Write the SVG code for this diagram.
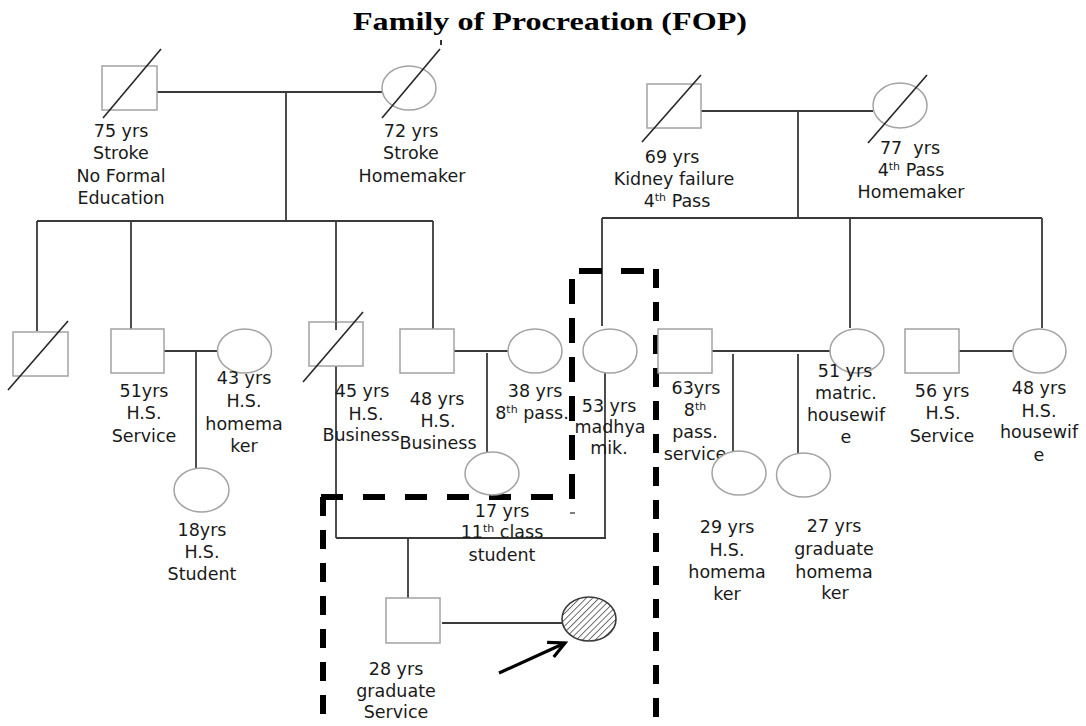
<svg xmlns="http://www.w3.org/2000/svg" width="1086" height="726" viewBox="0 0 1086 726">
<style>
.sym{fill:#fff;stroke:#a3a3a3;stroke-width:1.5}
.sl{stroke:#262626;stroke-width:1.6;fill:none}
.ln{stroke:#3a3a3a;stroke-width:1.8;fill:none}
.dv{stroke:#000;stroke-width:6;fill:none;stroke-dasharray:19 14}
.dh{stroke:#000;stroke-width:6;fill:none;stroke-dasharray:22 20}
.t{font-family:"DejaVu Sans","Open Sans",sans-serif;font-size:17.5px;fill:#1a1a1a;text-anchor:middle}
.sup{font-size:11px}
.title{font-family:"Liberation Serif","Times New Roman",serif;font-size:26px;font-weight:bold;fill:#000;text-anchor:middle}
</style>
<defs>
<pattern id="hatch" width="4.5" height="4.5" patternUnits="userSpaceOnUse" patternTransform="rotate(45)">
<rect width="4.5" height="4.5" fill="#fff"/>
<line x1="0" y1="0" x2="0" y2="4.5" stroke="#333" stroke-width="1.4"/>
</pattern>
<marker id="chev" markerUnits="userSpaceOnUse" markerWidth="24" markerHeight="24" refX="0" refY="0" viewBox="-18 -12 24 24" orient="auto" overflow="visible">
<path d="M-16,-8 L0,0 L-16,8" fill="none" stroke="#000" stroke-width="3.2"/>
</marker>
</defs>

<text class="title" x="550" y="30" textLength="394" lengthAdjust="spacingAndGlyphs">Family of Procreation (FOP)</text>
<line x1="441" y1="40" x2="441" y2="45" stroke="#333" stroke-width="2"/>

<g id="connectors">
<line class="ln" x1="157" y1="92" x2="382" y2="92"/>
<line class="ln" x1="286" y1="92" x2="286" y2="221"/>
<line class="ln" x1="37" y1="221" x2="433" y2="221"/>
<line class="ln" x1="37" y1="221" x2="37" y2="331"/>
<line class="ln" x1="131" y1="221" x2="131" y2="329"/>
<line class="ln" x1="336" y1="221" x2="336" y2="330"/>
<line class="ln" x1="433" y1="221" x2="433" y2="329"/>
<line class="ln" x1="701" y1="111" x2="873" y2="111"/>
<line class="ln" x1="798" y1="111" x2="798" y2="218"/>
<line class="ln" x1="602" y1="218" x2="1042" y2="218"/>
<line class="ln" x1="602" y1="218" x2="602" y2="326"/>
<line class="ln" x1="850" y1="218" x2="850" y2="328"/>
<line class="ln" x1="1042" y1="218" x2="1042" y2="328"/>
<line class="ln" x1="164" y1="351" x2="217" y2="351"/>
<line class="ln" x1="196" y1="351" x2="196" y2="468"/>
<line class="ln" x1="454" y1="351" x2="508" y2="351"/>
<line class="ln" x1="487" y1="353" x2="487" y2="452"/>
<line class="ln" x1="712" y1="351" x2="830" y2="351"/>
<line class="ln" x1="733" y1="354" x2="733" y2="452"/>
<line class="ln" x1="798" y1="354" x2="798" y2="453"/>
<line class="ln" x1="959" y1="351" x2="1013" y2="351"/>
<line class="ln" x1="336" y1="366" x2="336" y2="538"/>
<line class="ln" x1="605" y1="373" x2="605" y2="538"/>
<line class="ln" x1="336" y1="538" x2="606" y2="538"/>
<line class="ln" x1="408" y1="538" x2="408" y2="598"/>
<line class="ln" x1="442" y1="623" x2="562" y2="623"/>
<line x1="499" y1="673" x2="565" y2="643" stroke="#000" stroke-width="3.2" marker-end="url(#chev)"/>
</g>

<g id="boundary">
<line class="dv" x1="323" y1="497" x2="323" y2="726"/>
<line class="dh" x1="321" y1="497" x2="557" y2="497"/>
<line class="dv" x1="572" y1="279" x2="572" y2="499" style="stroke-dasharray:25 14"/>
<line class="dh" x1="579" y1="271" x2="655" y2="271" style="stroke-dasharray:23 19"/>
<line class="dv" x1="656" y1="269" x2="656" y2="726"/>
<line x1="570" y1="513" x2="575" y2="513" stroke="#555" stroke-width="1.5"/>
</g>

<g id="gf-left">
<rect class="sym" x="102" y="66" width="55" height="44"/>
<line class="sl" x1="103" y1="118" x2="161" y2="49"/>
<text class="t" x="121" y="137">75 yrs</text>
<text class="t" x="121" y="159">Stroke</text>
<text class="t" x="121" y="182">No Formal</text>
<text class="t" x="121" y="204">Education</text>
</g>
<g id="gm-left">
<ellipse class="sym" cx="409" cy="88" rx="27" ry="22"/>
<line class="sl" x1="382" y1="118" x2="440" y2="49"/>
<text class="t" x="411" y="137">72 yrs</text>
<text class="t" x="411" y="159">Stroke</text>
<text class="t" x="412" y="182">Homemaker</text>
</g>
<g id="gf-right">
<rect class="sym" x="647" y="84" width="54" height="44"/>
<line class="sl" x1="642" y1="142" x2="701" y2="75"/>
<text class="t" x="672" y="163">69 yrs</text>
<text class="t" x="674" y="185">Kidney failure</text>
<text class="t" x="677" y="207">4<tspan class="sup" dy="-6">th</tspan><tspan dy="6"> Pass</tspan></text>
</g>
<g id="gm-right">
<ellipse class="sym" cx="900" cy="105.5" rx="27" ry="22.5"/>
<line class="sl" x1="868" y1="143" x2="927" y2="75"/>
<text class="t" x="910" y="154" xml:space="preserve">77  yrs</text>
<text class="t" x="911" y="176">4<tspan class="sup" dy="-6">th</tspan><tspan dy="6"> Pass</tspan></text>
<text class="t" x="911" y="198">Homemaker</text>
</g>

<g id="sib-deceased">
<rect class="sym" x="13" y="332" width="55" height="44"/>
<line class="sl" x1="8" y1="390" x2="68" y2="321"/>
</g>
<g id="m-51">
<rect class="sym" x="111" y="329" width="53" height="44"/>
<text class="t" x="144" y="397">51yrs</text>
<text class="t" x="144" y="419">H.S.</text>
<text class="t" x="144" y="442">Service</text>
</g>
<g id="f-43">
<ellipse class="sym" cx="244.5" cy="351" rx="27" ry="22"/>
<text class="t" x="244" y="384">43 yrs</text>
<text class="t" x="244" y="407">H.S.</text>
<text class="t" x="244" y="430">homema</text>
<text class="t" x="244" y="452">ker</text>
</g>
<g id="f-18">
<ellipse class="sym" cx="201.5" cy="490" rx="27.5" ry="22"/>
<text class="t" x="202" y="536">18yrs</text>
<text class="t" x="202" y="558">H.S.</text>
<text class="t" x="202" y="580">Student</text>
</g>
<g id="m-45">
<rect class="sym" x="309" y="322" width="54" height="44"/>
<line class="ln" x1="336" y1="322" x2="336" y2="330"/>
<line class="sl" x1="303" y1="382" x2="363" y2="312"/>
<text class="t" x="362" y="397">45 yrs</text>
<text class="t" x="366" y="420">H.S.</text>
<text class="t" x="361" y="441">Business</text>
</g>
<g id="m-48">
<rect class="sym" x="400" y="329" width="54" height="44"/>
<text class="t" x="437" y="405">48 yrs</text>
<text class="t" x="438" y="427">H.S.</text>
<text class="t" x="438" y="449">Business</text>
</g>
<g id="f-38">
<ellipse class="sym" cx="535" cy="351" rx="27" ry="22"/>
<text class="t" x="535" y="397">38 yrs</text>
<text class="t" x="532" y="419">8<tspan class="sup" dy="-6">th</tspan><tspan dy="6"> pass.</tspan></text>
</g>
<g id="f-17">
<ellipse class="sym" cx="492" cy="473.5" rx="27" ry="21.5"/>
<text class="t" x="502" y="517">17 yrs</text>
<text class="t" x="502" y="538">11<tspan class="sup" dy="-6">th</tspan><tspan dy="6"> class</tspan></text>
<text class="t" x="502" y="561">student</text>
</g>
<g id="f-53">
<ellipse class="sym" cx="610" cy="351" rx="27" ry="22"/>
<text class="t" x="609" y="412">53 yrs</text>
<text class="t" x="610" y="433">madhya</text>
<text class="t" x="609" y="454">mik.</text>
</g>
<g id="m-28">
<rect class="sym" x="386" y="598" width="54" height="45"/>
<text class="t" x="396" y="675">28 yrs</text>
<text class="t" x="396" y="697">graduate</text>
<text class="t" x="396" y="718">Service</text>
</g>
<g id="index-female">
<ellipse cx="589" cy="619" rx="27" ry="22" fill="url(#hatch)" stroke="#3a3a3a" stroke-width="1.6"/>
</g>
<g id="m-63">
<rect class="sym" x="658" y="329" width="54" height="44"/>
<text class="t" x="696" y="394">63yrs</text>
<text class="t" x="695" y="416">8<tspan class="sup" dy="-6">th</tspan></text>
<text class="t" x="695" y="438">pass.</text>
<text class="t" x="695" y="460">service</text>
</g>
<g id="f-51">
<ellipse class="sym" cx="857" cy="351" rx="27" ry="22"/>
<text class="t" x="845" y="377">51 yrs</text>
<text class="t" x="846" y="399">matric.</text>
<text class="t" x="846" y="421">housewif</text>
<text class="t" x="846" y="443">e</text>
</g>
<g id="f-29">
<ellipse class="sym" cx="739" cy="473" rx="27" ry="22"/>
<text class="t" x="727" y="533">29 yrs</text>
<text class="t" x="727" y="556">H.S.</text>
<text class="t" x="727" y="578">homema</text>
<text class="t" x="727" y="600">ker</text>
</g>
<g id="f-27">
<ellipse class="sym" cx="803.5" cy="475" rx="27" ry="22"/>
<text class="t" x="834" y="532">27 yrs</text>
<text class="t" x="834" y="555">graduate</text>
<text class="t" x="834" y="578">homema</text>
<text class="t" x="835" y="599">ker</text>
</g>
<g id="m-56">
<rect class="sym" x="905" y="329" width="54" height="44"/>
<text class="t" x="942" y="397">56 yrs</text>
<text class="t" x="943" y="419">H.S.</text>
<text class="t" x="942" y="442">Service</text>
</g>
<g id="f-48">
<ellipse class="sym" cx="1039.5" cy="351" rx="26.5" ry="22"/>
<text class="t" x="1039" y="394">48 yrs</text>
<text class="t" x="1039" y="417">H.S.</text>
<text class="t" x="1039" y="438">housewif</text>
<text class="t" x="1039" y="461">e</text>
</g>
</svg>
